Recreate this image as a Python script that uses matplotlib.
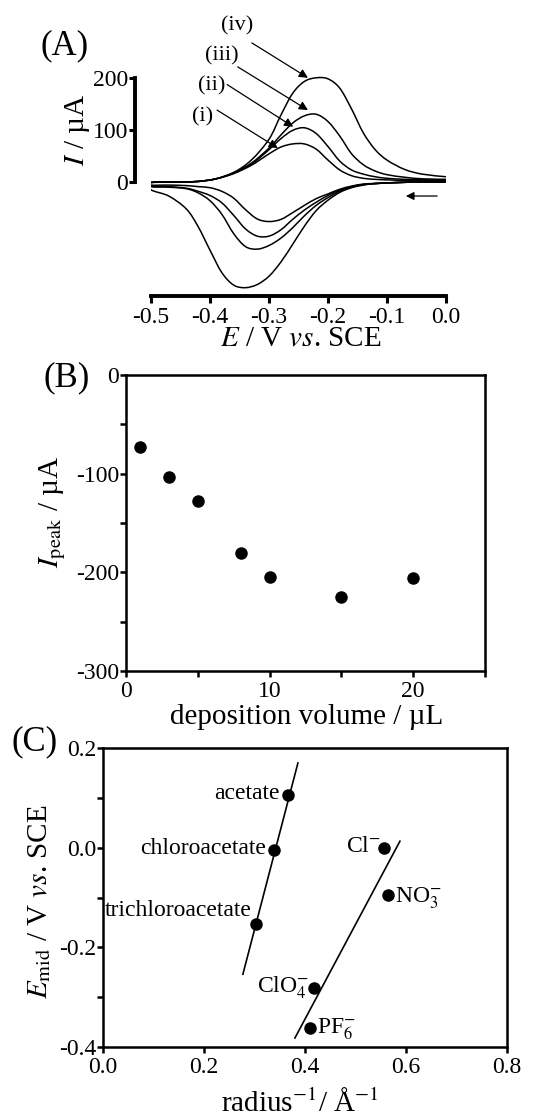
import numpy as np
import matplotlib
matplotlib.use("Agg")
import matplotlib.pyplot as plt
from matplotlib.path import Path
from matplotlib.patches import PathPatch

plt.rcParams['font.family'] = ['Liberation Serif', 'DejaVu Serif']
plt.rcParams['mathtext.fontset'] = 'stix'
plt.rcParams['axes.unicode_minus'] = False

# ---- (A) cyclic voltammograms ----
# reduction sweep (0.0 -> -0.5 V) and oxidation sweep (-0.5 -> 0.0 V)
e_red = [0.0, -0.04, -0.08, -0.12, -0.14, -0.16, -0.18, -0.20, -0.22, -0.24, -0.26,
         -0.28, -0.30, -0.32, -0.34, -0.36, -0.38, -0.40, -0.42, -0.44, -0.47, -0.50]
e_ox = [-0.50, -0.45, -0.42, -0.39, -0.36, -0.33, -0.30, -0.28, -0.26, -0.24, -0.22,
        -0.20, -0.18, -0.16, -0.14, -0.12, -0.10, -0.07, -0.04, 0.0]

red_i = [0, 0, -1, -3, -4, -8, -14, -23, -32, -45, -59, -72, -76, -71, -53, -31, -18, -11, -9, -7, -6, -6]
red_ii = [0, 0, -1, -3, -5, -9, -16, -26, -39, -54, -72, -92, -104, -104, -90, -64, -40, -26, -18, -12, -9, -8]
red_iii = [0, 0, -1, -3, -5, -10, -18, -30, -45, -65, -88, -108, -122, -129, -124, -99, -62, -36, -21, -13, -10, -9]
red_iv = [0, 0, -1, -3, -6, -11, -20, -35, -55, -85, -120, -154, -181, -197, -203, -198, -174, -131, -86, -52, -27, -15]

ox_i = [-1, 0, 1, 6, 16, 32, 54, 67, 73, 73, 63, 42, 23, 12, 7, 5, 4, 3, 3, 3]
ox_ii = [-1, 0, 1, 6, 17, 34, 62, 83, 99, 104, 93, 68, 40, 23, 15, 10, 7, 5, 4, 4]
ox_iii = [-1, 0, 1, 6, 18, 36, 65, 90, 113, 127, 130, 116, 88, 54, 33, 21, 14, 9, 6, 5]
ox_iv = [-1, 0, 1, 6, 18, 42, 82, 128, 170, 193, 200, 198, 180, 140, 94, 62, 42, 24, 15, 10]

# ---- (B) peak current vs deposition volume ----
volume = [1, 3, 5, 8, 10, 15, 20]
i_peak = [-73, -103, -128, -180, -205, -225, -206]

# ---- (C) midpoint potential vs inverse radius ----
anions = ["acetate", "chloroacetate", "trichloroacetate",
          "Cl$^{-}$", "NO$_3^{-}$", "ClO$_4^{-}$", "PF$_6^{-}$"]
inv_radius = [0.366, 0.339, 0.303, 0.556, 0.565, 0.418, 0.410]
e_mid = [0.106, -0.005, -0.153, 0.0, -0.095, -0.282, -0.362]
fit1_x = [0.277, 0.386]
fit1_y = [-0.254, 0.170]
fit2_x = [0.380, 0.588]
fit2_y = [-0.382, 0.013]


def smooth_path(x, y):
    # Catmull-Rom through the read points, drawn as cubic Bezier segments
    pts = np.column_stack([x, y]).astype(float)
    verts = [pts[0]]
    codes = [Path.MOVETO]
    n = len(pts)
    for k in range(n - 1):
        p0 = pts[k - 1] if k > 0 else pts[k]
        p1, p2 = pts[k], pts[k + 1]
        p3 = pts[k + 2] if k + 2 < n else pts[k + 1]
        verts += [p1 + (p2 - p0) / 6, p2 - (p3 - p1) / 6, p2]
        codes += [Path.CURVE4] * 3
    return Path(verts, codes)


W, H = 552, 1117
fig = plt.figure(figsize=(W / 100, H / 100), dpi=100)


def box(l, t, r, b):
    return [l / W, 1 - b / H, (r - l) / W, (b - t) / H]


TICK = 17
LAB = 21

# ---------------- panel A ----------------
axA = fig.add_axes(box(151, 70, 446, 296))
for red, ox in [(red_i, ox_i), (red_ii, ox_ii), (red_iii, ox_iii), (red_iv, ox_iv)]:
    path = smooth_path(e_red + e_ox, red + ox)
    axA.add_patch(PathPatch(path, fill=False, ec='black', lw=1.1))
axA.set_xlim(-0.5, 0.0)
axA.set_ylim(-219, 215)
axA.spines['top'].set_visible(False)
axA.spines['right'].set_visible(False)
axA.spines['left'].set_position(('outward', 11.5))
axA.spines['left'].set_bounds(0, 200)
axA.spines['left'].set_linewidth(2.8)
axA.spines['bottom'].set_linewidth(2.8)
axA.set_yticks([0, 100, 200])
axA.set_xticks(np.arange(-0.5, 0.01, 0.1))
axA.set_xticklabels(['-0.5', '-0.4', '-0.3', '-0.2', '-0.1', '0.0'])
axA.tick_params(axis='y', direction='out', length=4, width=2.2, labelsize=TICK, pad=1)
axA.tick_params(axis='x', direction='out', length=5, width=2.2, labelsize=TICK, pad=3)
axA.patch.set_alpha(0)
axA.text(0.508, -0.19, r"$E$ / V $vs$. SCE", transform=axA.transAxes,
         ha='center', va='center', fontsize=LAB)
axA.text(-0.25, 0.735, r"$I$ / µA", transform=axA.transAxes, rotation=90,
         ha='center', va='center', fontsize=LAB)

labels_A = ["(i)", "(ii)", "(iii)", "(iv)"]
tips = [(-0.285, 65), (-0.259, 106), (-0.234, 138), (-0.234, 200)]
starts = [(-0.388, 138), (-0.371, 187), (-0.353, 221), (-0.329, 267)]
text_pos = [(-0.412, 125), (-0.397, 185), (-0.380, 242), (-0.354, 300)]
for lab, tip, st, tp in zip(labels_A, tips, starts, text_pos):
    axA.annotate("", xy=tip, xytext=st,
                 arrowprops=dict(arrowstyle='-|>', color='black', lw=0.9,
                                 mutation_scale=13, shrinkA=0, shrinkB=0),
                 annotation_clip=False)
    axA.text(tp[0], tp[1], lab, ha='center', va='center', fontsize=16, clip_on=False)
axA.annotate("", xy=(-0.068, -27), xytext=(-0.015, -27),
             arrowprops=dict(arrowstyle='-|>', color='black', lw=0.9,
                             mutation_scale=12, shrinkA=0, shrinkB=0))

# ---------------- panel B ----------------
axB = fig.add_axes(box(126, 375, 485, 671))
axB.plot(volume, i_peak, 'o', color='black', ms=8)
axB.set_xlim(0, 25)
axB.set_ylim(-300, 0)
axB.set_xticks([0, 5, 10, 15, 20, 25])
axB.set_xticklabels(['0', '', '10', '', '20', ''])
axB.set_yticks([0, -50, -100, -150, -200, -250, -300])
axB.set_yticklabels(['0', '', '-100', '', '-200', '', '-300'])
for s in axB.spines.values():
    s.set_linewidth(1.8)
axB.tick_params(direction='out', length=4, width=1.8, labelsize=TICK, pad=1)
axB.tick_params(axis='x', pad=3)
axB.text(0.504, -0.155, "deposition volume / µL", transform=axB.transAxes,
         ha='center', va='center', fontsize=LAB)
axB.text(-0.205, 0.537, r"$I_{\rm peak}$ / µA", transform=axB.transAxes, rotation=90,
         ha='center', va='center', fontsize=LAB)

# ---------------- panel C ----------------
axC = fig.add_axes(box(103, 748, 507, 1047))
axC.plot(fit1_x, fit1_y, color='black', lw=1.2)
axC.plot(fit2_x, fit2_y, color='black', lw=1.2)
axC.plot(inv_radius, e_mid, 'o', color='black', ms=8)
offsets = [(-6, 1, 'right'), (-6, 1, 'right'), (-3, 10, 'right'), (-2, 1, 'right'),
           (5, -2, 'left'), (-4, 0, 'right'), (5, -1, 'left')]
for name, x, y, (dx, dy, ha) in zip(anions, inv_radius, e_mid, offsets):
    axC.annotate(name, xy=(x, y), xytext=(dx, dy), textcoords='offset points',
                 ha=ha, va='center', fontsize=17)
axC.set_xlim(0, 0.8)
axC.set_ylim(-0.4, 0.2)
axC.set_xticks([0, 0.2, 0.4, 0.6, 0.8])
axC.set_xticklabels(['0.0', '0.2', '0.4', '0.6', '0.8'])
axC.set_yticks([-0.4, -0.3, -0.2, -0.1, 0.0, 0.1, 0.2])
axC.set_yticklabels(['-0.4', '', '-0.2', '', '0.0', '', '0.2'])
for s in axC.spines.values():
    s.set_linewidth(1.8)
axC.tick_params(direction='out', length=4, width=1.8, labelsize=TICK, pad=1)
axC.tick_params(axis='x', pad=3)
axC.text(0.488, -0.19, r"radius$^{-1}$/ Å$^{-1}$", transform=axC.transAxes,
         ha='center', va='center', fontsize=LAB)
axC.text(-0.157, 0.485, r"$E_{\rm mid}$ / V $vs$. SCE", transform=axC.transAxes,
         rotation=90, ha='center', va='center', fontsize=LAB)

# panel letters
for lab, (px, py) in [("(A)", (65, 46)), ("(B)", (67, 378)), ("(C)", (35, 742))]:
    fig.text(px / W, 1 - py / H, lab, ha='center', va='center', fontsize=25)

fig.savefig("out.png", dpi=100, facecolor='white')
